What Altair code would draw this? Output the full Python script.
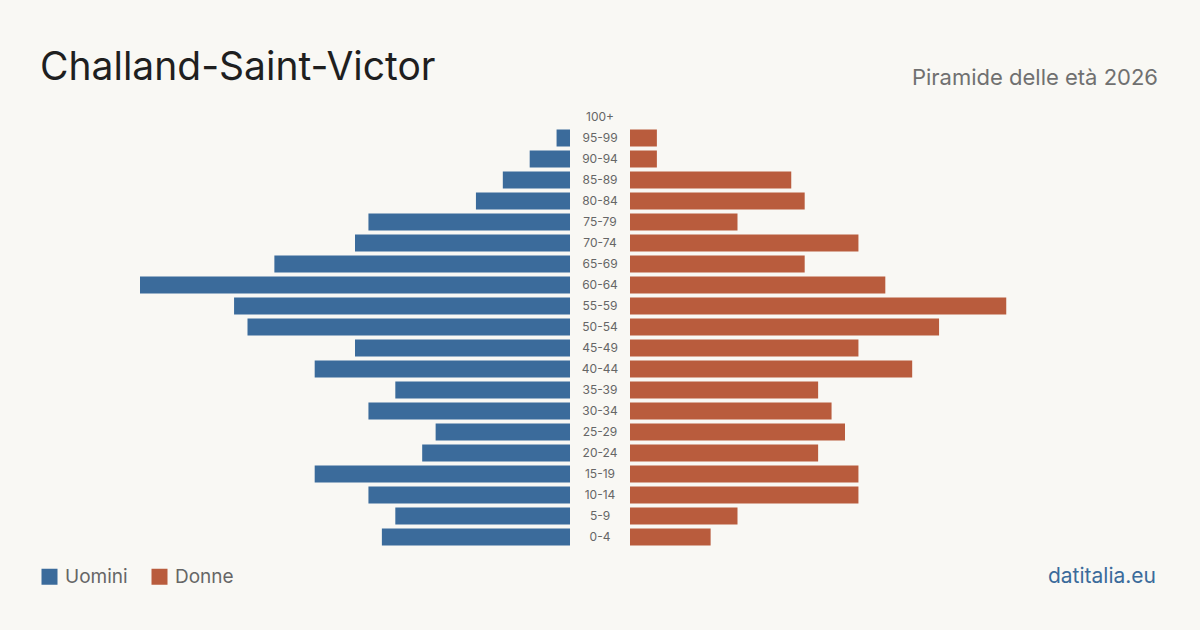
import altair as alt
import pandas as pd

ages = ["100+", "95-99", "90-94", "85-89", "80-84", "75-79", "70-74", "65-69", "60-64",
        "55-59", "50-54", "45-49", "40-44", "35-39", "30-34", "25-29", "20-24", "15-19",
        "10-14", "5-9", "0-4"]
uomini = [0, 1, 3, 5, 7, 15, 16, 22, 32, 25, 24, 16, 19, 13, 15, 10, 11, 19, 15, 13, 14]
donne = [0, 2, 2, 12, 13, 8, 17, 13, 19, 28, 23, 17, 21, 14, 15, 16, 14, 17, 17, 8, 6]

title = "Challand-Saint-Victor"
subtitle = "Piramide delle età 2026"
source = "datitalia.eu"

BLUE = "#3b6b9b"
RED = "#b95c3d"
BG = "#f9f8f4"
FONT = "Inter"

rows = []
for a, u, d in zip(ages, uomini, donne):
    rows.append({"age": a, "sex": "Uomini", "value": u})
    rows.append({"age": a, "sex": "Donne", "value": d})
df = pd.DataFrame(rows)
vmax = max(max(uomini), max(donne))

yscale = alt.Scale(domain=ages, range=[106.5, 547.5], paddingInner=4 / 21, paddingOuter=2 / 21)
color = alt.Color(
    "sex:N",
    scale=alt.Scale(domain=["Uomini", "Donne"], range=[BLUE, RED]),
    legend=alt.Legend(
        title=None, orient="none", legendX=40, legendY=567, direction="horizontal",
        symbolType="square", symbolSize=256, symbolStrokeWidth=0, symbolOpacity=1,
        labelFontSize=19, labelColor="#666666", labelFont=FONT, labelOffset=6,
        columnPadding=22, symbolOffset=0,
    ),
)

base = alt.Chart(df)
left = base.transform_filter(alt.datum.sex == "Uomini").mark_bar().encode(
    x=alt.X("value:Q", scale=alt.Scale(domain=[0, vmax], range=[570, 140]), axis=None),
    y=alt.Y("age:N", scale=yscale, axis=None, sort=ages),
    color=color,
)
right = base.transform_filter(alt.datum.sex == "Donne").mark_bar().encode(
    x=alt.X("value:Q", scale=alt.Scale(domain=[0, vmax], range=[630, 1060]), axis=None),
    y=alt.Y("age:N", scale=yscale, axis=None, sort=ages),
    color=color,
)
labels = alt.Chart(pd.DataFrame({"age": ages})).mark_text(
    font=FONT, fontSize=12, color="#666666", align="center", baseline="middle"
).encode(
    x=alt.value(600),
    y=alt.Y("age:N", scale=yscale, axis=None, sort=ages),
    text="age:N",
)

def txt(s, x, y, size, col, align="left"):
    return alt.Chart(pd.DataFrame({"t": [s]})).mark_text(
        font=FONT, fontSize=size, color=col, align=align, baseline="alphabetic"
    ).encode(x=alt.value(x), y=alt.value(y), text="t:N")

chart = alt.layer(
    left, right, labels,
    txt(title, 40, 80, 39, "#1f1f1f"),
    txt(subtitle, 1158, 85, 22, "#707070", "right"),
    txt(source, 1156, 583, 21, "#3b6b9b", "right"),
).resolve_scale(x="independent").properties(
    width=1200, height=630, autosize=alt.AutoSizeParams(type="none"), padding=0,
    background=BG,
).configure_view(stroke=None)

chart.save("out.html", embed_options={"renderer": "svg", "actions": False})
